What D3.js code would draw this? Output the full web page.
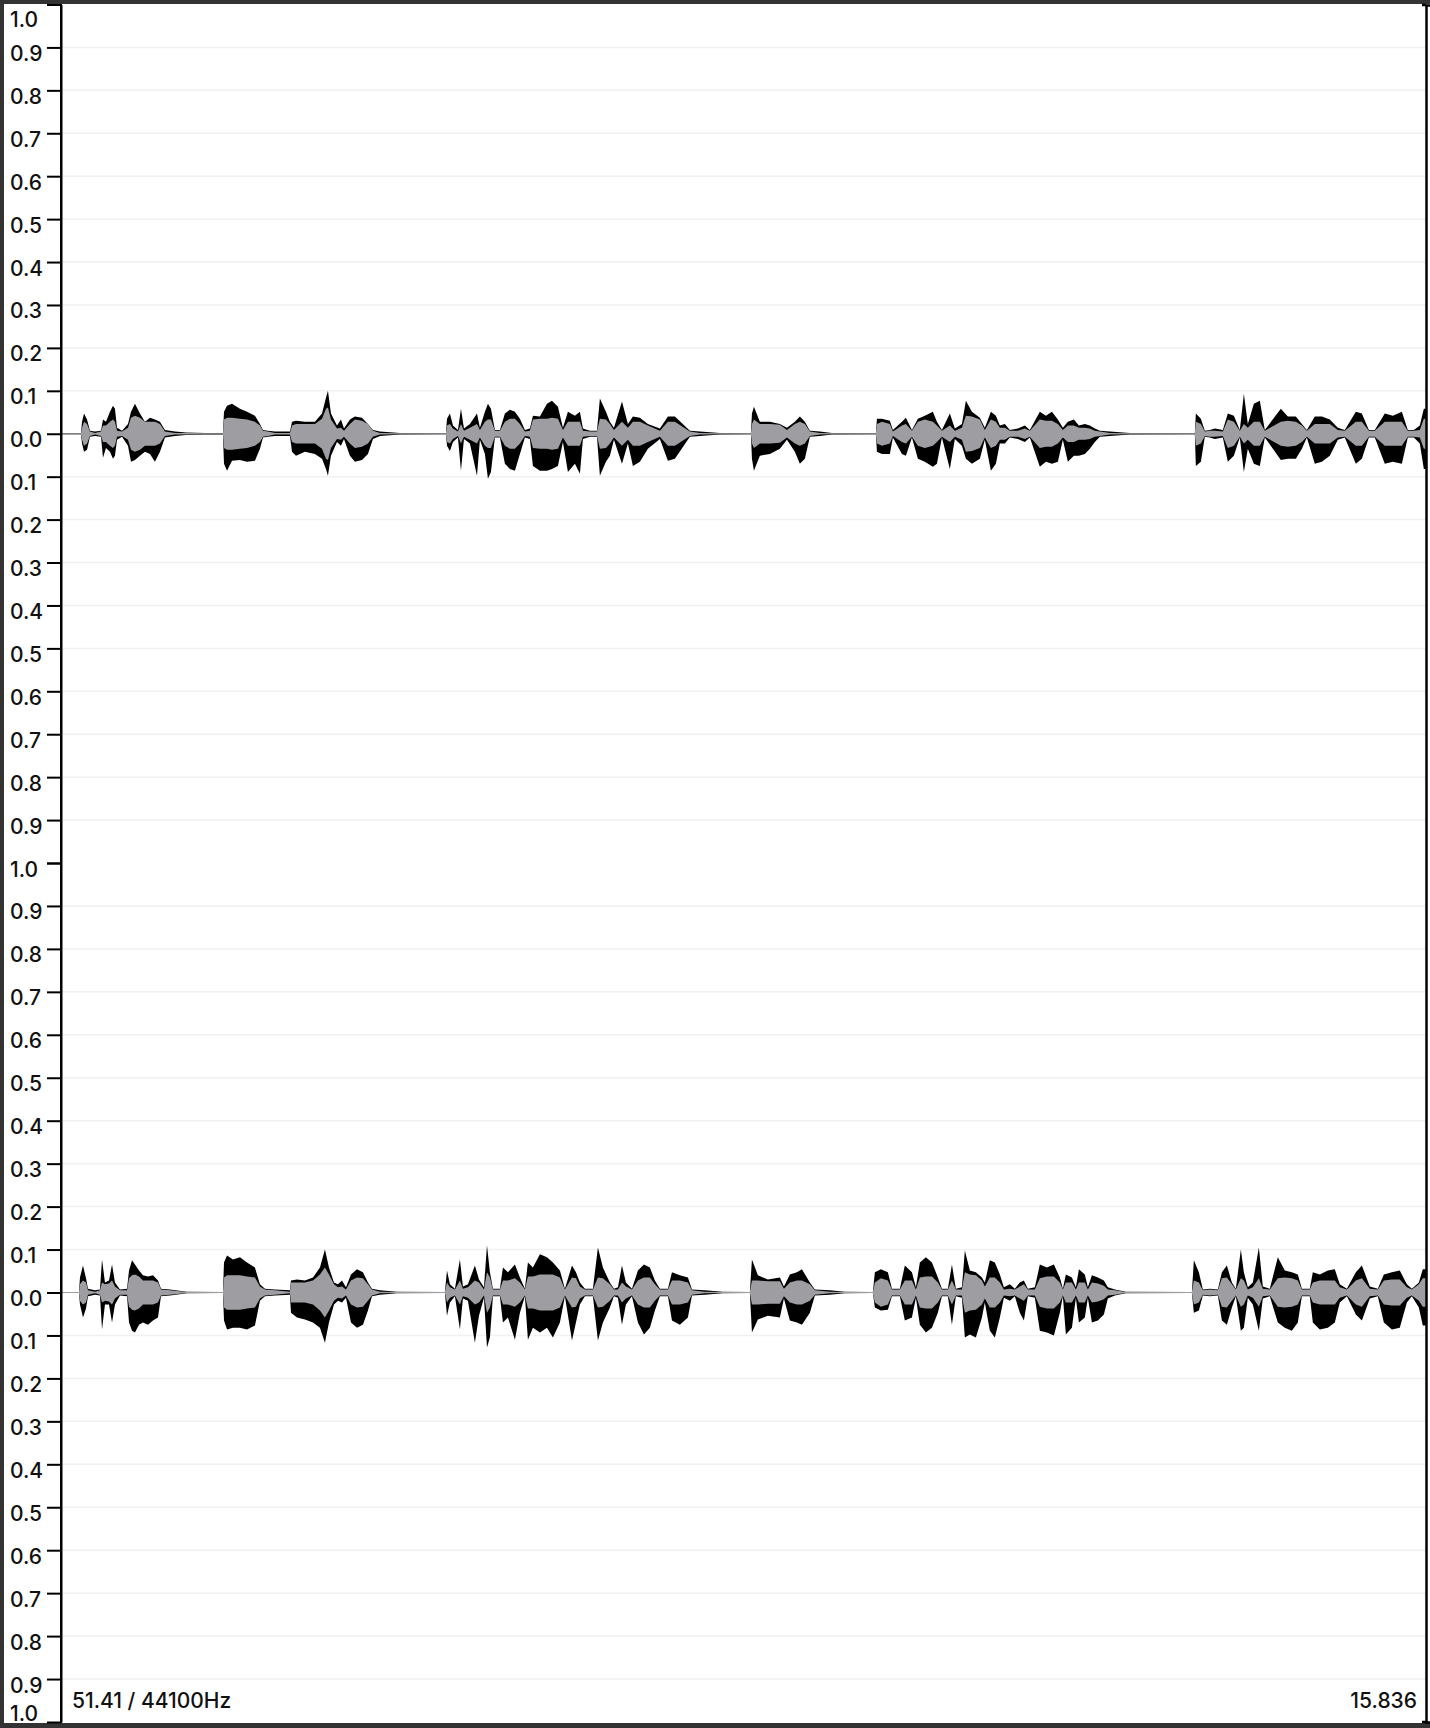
<!DOCTYPE html>
<html>
<head>
<meta charset="utf-8">
<script src="https://cdn.jsdelivr.net/npm/d3@7"></script>
<style>
  html, body { margin: 0; padding: 0; background: #333; }
  svg { display: block; }
  text { font-family: Inter, "Noto Sans", sans-serif; }
</style>
</head>
<body>
<svg id="chart" width="1430" height="1728"></svg>
<script>
// ---------- DATA ----------
const duration = 15.836;           // seconds shown
const sampleRateLabel = "51.41 / 44100Hz";
const endTimeLabel = "15.836";
const amplitudeTicks = [1.0, 0.9, 0.8, 0.7, 0.6, 0.5, 0.4, 0.3, 0.2, 0.1, 0.0,
  -0.1, -0.2, -0.3, -0.4, -0.5, -0.6, -0.7, -0.8, -0.9, -1.0];

// rows: [time (s), peak max, peak min, rms]
const leftChannel = [
[0,0.001,-0.001,0.001],[0.232,0.001,-0.001,0.001],[0.244,0.028,-0.023,0.014],[0.267,0.047,-0.042,0.028],
[0.302,0.033,-0.037,0.023],[0.336,0.007,-0.007,0.005],[0.394,0.005,-0.005,0.002],[0.464,0.007,-0.007,0.005],
[0.487,0.033,-0.056,0.019],[0.522,0.028,-0.033,0.019],[0.568,0.051,-0.042,0.028],[0.603,0.065,-0.058,0.033],
[0.626,0.058,-0.051,0.028],[0.650,0.014,-0.014,0.007],[0.708,0.007,-0.007,0.005],[0.777,0.023,-0.028,0.014],
[0.812,0.051,-0.065,0.037],[0.858,0.070,-0.061,0.042],[0.916,0.047,-0.051,0.037],[0.974,0.028,-0.042,0.028],
[1.032,0.037,-0.047,0.028],[1.090,0.033,-0.065,0.028],[1.148,0.028,-0.042,0.023],[1.206,0.009,-0.009,0.005],
[1.322,0.005,-0.005,0.002],[1.450,0.003,-0.003,0.002],[1.670,0.002,-0.002,0.001],[1.879,0.002,-0.002,0.001],
[1.891,0.051,-0.070,0.033],[1.926,0.065,-0.086,0.037],[1.984,0.070,-0.063,0.037],[2.076,0.058,-0.061,0.035],
[2.158,0.051,-0.065,0.033],[2.250,0.042,-0.063,0.028],[2.308,0.023,-0.035,0.019],[2.343,0.009,-0.009,0.007],
[2.401,0.007,-0.007,0.005],[2.482,0.005,-0.005,0.002],[2.656,0.005,-0.005,0.002],[2.680,0.028,-0.042,0.019],
[2.726,0.030,-0.051,0.023],[2.830,0.028,-0.042,0.023],[2.946,0.028,-0.047,0.023],[3.028,0.047,-0.058,0.035],
[3.074,0.084,-0.082,0.058],[3.097,0.100,-0.098,0.061],[3.132,0.047,-0.051,0.033],[3.202,0.019,-0.019,0.012],
[3.248,0.033,-0.028,0.014],[3.283,0.012,-0.012,0.007],[3.352,0.033,-0.051,0.023],[3.410,0.040,-0.065,0.033],
[3.492,0.037,-0.061,0.030],[3.561,0.023,-0.047,0.023],[3.619,0.009,-0.012,0.007],[3.700,0.005,-0.005,0.002],
[3.932,0.002,-0.002,0.001],[4.396,0.001,-0.001,0.001],[4.466,0.001,-0.001,0.001],[4.478,0.035,-0.028,0.019],
[4.512,0.047,-0.040,0.023],[4.547,0.019,-0.019,0.012],[4.605,0.009,-0.009,0.005],[4.640,0.058,-0.086,0.023],
[4.675,0.012,-0.012,0.007],[4.744,0.023,-0.023,0.014],[4.826,0.047,-0.098,0.023],[4.860,0.014,-0.014,0.009],
[4.918,0.051,-0.047,0.028],[4.953,0.070,-0.105,0.033],[4.988,0.058,-0.089,0.033],[5.034,0.009,-0.009,0.007],
[5.092,0.009,-0.009,0.007],[5.150,0.047,-0.070,0.028],[5.208,0.056,-0.082,0.035],[5.266,0.051,-0.086,0.035],
[5.324,0.035,-0.047,0.023],[5.382,0.009,-0.009,0.005],[5.440,0.012,-0.012,0.007],[5.475,0.042,-0.075,0.033],
[5.556,0.040,-0.086,0.035],[5.638,0.070,-0.086,0.035],[5.696,0.077,-0.082,0.037],[5.765,0.063,-0.075,0.035],
[5.823,0.014,-0.019,0.009],[5.881,0.051,-0.089,0.028],[5.962,0.042,-0.070,0.028],[6.020,0.051,-0.093,0.028],
[6.055,0.012,-0.012,0.007],[6.136,0.007,-0.007,0.005],[6.218,0.007,-0.007,0.005],[6.252,0.082,-0.098,0.035],
[6.322,0.051,-0.065,0.033],[6.368,0.028,-0.051,0.023],[6.415,0.014,-0.014,0.009],[6.508,0.075,-0.070,0.028],
[6.577,0.023,-0.023,0.014],[6.635,0.040,-0.075,0.028],[6.716,0.037,-0.065,0.028],[6.809,0.023,-0.035,0.019],
[6.948,0.012,-0.012,0.007],[7.041,0.040,-0.063,0.028],[7.122,0.040,-0.058,0.028],[7.296,0.007,-0.007,0.005],
[7.412,0.005,-0.005,0.002],[7.644,0.002,-0.002,0.001],[8.004,0.001,-0.001,0.001],[8.016,0.047,-0.058,0.023],
[8.039,0.063,-0.086,0.033],[8.108,0.028,-0.051,0.023],[8.224,0.028,-0.047,0.023],[8.340,0.023,-0.035,0.021],
[8.422,0.014,-0.014,0.009],[8.514,0.028,-0.042,0.023],[8.572,0.040,-0.070,0.028],[8.630,0.028,-0.058,0.023],
[8.688,0.007,-0.007,0.005],[8.804,0.005,-0.005,0.002],[8.944,0.002,-0.002,0.001],[9.454,0.001,-0.001,0.001],
[9.466,0.035,-0.042,0.023],[9.524,0.035,-0.047,0.028],[9.616,0.030,-0.047,0.023],[9.651,0.009,-0.009,0.005],
[9.756,0.028,-0.047,0.019],[9.802,0.037,-0.051,0.023],[9.872,0.009,-0.009,0.007],[9.941,0.035,-0.058,0.028],
[10.022,0.042,-0.065,0.033],[10.115,0.051,-0.077,0.028],[10.162,0.028,-0.070,0.019],[10.220,0.009,-0.009,0.007],
[10.312,0.047,-0.082,0.019],[10.370,0.012,-0.012,0.007],[10.452,0.023,-0.028,0.014],[10.498,0.077,-0.058,0.042],
[10.568,0.051,-0.070,0.040],[10.660,0.037,-0.058,0.033],[10.718,0.014,-0.014,0.009],[10.788,0.051,-0.086,0.033],
[10.846,0.042,-0.070,0.028],[10.892,0.019,-0.023,0.014],[10.950,0.023,-0.023,0.014],[11.008,0.009,-0.009,0.007],
[11.101,0.012,-0.012,0.007],[11.182,0.019,-0.019,0.012],[11.240,0.009,-0.009,0.007],[11.356,0.051,-0.077,0.033],
[11.426,0.042,-0.065,0.030],[11.496,0.051,-0.070,0.030],[11.565,0.033,-0.065,0.023],[11.623,0.014,-0.014,0.009],
[11.681,0.028,-0.065,0.019],[11.751,0.033,-0.051,0.019],[11.809,0.019,-0.051,0.014],[11.878,0.023,-0.047,0.014],
[11.936,0.019,-0.035,0.012],[11.994,0.012,-0.019,0.007],[12.052,0.007,-0.007,0.005],[12.168,0.005,-0.005,0.002],
[12.400,0.002,-0.002,0.001],[13.154,0.001,-0.001,0.001],[13.166,0.047,-0.075,0.028],[13.224,0.035,-0.065,0.023],
[13.270,0.007,-0.007,0.005],[13.328,0.009,-0.009,0.007],[13.386,0.012,-0.012,0.007],[13.479,0.009,-0.009,0.005],
[13.537,0.047,-0.065,0.033],[13.607,0.042,-0.051,0.028],[13.676,0.009,-0.009,0.007],[13.723,0.093,-0.089,0.023],
[13.769,0.023,-0.035,0.014],[13.839,0.070,-0.070,0.028],[13.908,0.077,-0.075,0.028],[13.966,0.009,-0.009,0.007],
[14.152,0.058,-0.061,0.028],[14.233,0.040,-0.058,0.030],[14.326,0.040,-0.058,0.028],[14.396,0.023,-0.035,0.019],
[14.454,0.009,-0.009,0.007],[14.546,0.040,-0.070,0.023],[14.628,0.040,-0.065,0.023],[14.720,0.033,-0.051,0.023],
[14.813,0.014,-0.014,0.009],[14.894,0.009,-0.009,0.007],[15.022,0.051,-0.070,0.028],[15.092,0.047,-0.058,0.028],
[15.173,0.009,-0.009,0.007],[15.242,0.009,-0.009,0.007],[15.358,0.047,-0.070,0.028],[15.451,0.042,-0.065,0.028],
[15.556,0.051,-0.070,0.028],[15.625,0.009,-0.009,0.007],[15.695,0.009,-0.009,0.007],[15.764,0.019,-0.023,0.009],
[15.811,0.058,-0.082,0.035],[15.836,0.058,-0.082,0.035]
];

const rightChannel = [
[0,0.001,-0.001,0.001],[0.209,0.001,-0.001,0.001],[0.220,0.035,-0.028,0.019],[0.255,0.063,-0.058,0.028],
[0.290,0.033,-0.037,0.023],[0.313,0.009,-0.009,0.005],[0.394,0.005,-0.005,0.002],[0.452,0.007,-0.007,0.005],
[0.476,0.077,-0.086,0.023],[0.510,0.023,-0.028,0.019],[0.557,0.028,-0.028,0.021],[0.592,0.065,-0.070,0.028],
[0.626,0.023,-0.028,0.014],[0.684,0.007,-0.007,0.005],[0.766,0.009,-0.009,0.005],[0.789,0.051,-0.070,0.033],
[0.824,0.075,-0.089,0.040],[0.858,0.065,-0.093,0.042],[0.905,0.051,-0.075,0.037],[0.951,0.040,-0.070,0.028],
[1.009,0.037,-0.075,0.028],[1.067,0.040,-0.065,0.028],[1.125,0.028,-0.058,0.023],[1.160,0.009,-0.009,0.007],
[1.264,0.007,-0.007,0.005],[1.462,0.002,-0.002,0.001],[1.879,0.001,-0.001,0.001],[1.891,0.070,-0.065,0.035],
[1.926,0.086,-0.086,0.040],[1.995,0.077,-0.082,0.040],[2.076,0.082,-0.082,0.040],[2.158,0.070,-0.086,0.037],
[2.250,0.058,-0.077,0.035],[2.308,0.019,-0.019,0.014],[2.366,0.009,-0.009,0.007],[2.482,0.007,-0.007,0.005],
[2.656,0.005,-0.005,0.002],[2.668,0.028,-0.047,0.023],[2.738,0.030,-0.058,0.023],[2.830,0.028,-0.063,0.023],
[2.923,0.035,-0.070,0.028],[3.004,0.058,-0.082,0.042],[3.062,0.100,-0.117,0.058],[3.109,0.058,-0.070,0.042],
[3.167,0.023,-0.028,0.019],[3.213,0.019,-0.019,0.012],[3.260,0.028,-0.023,0.014],[3.306,0.012,-0.012,0.007],
[3.364,0.042,-0.070,0.028],[3.434,0.054,-0.082,0.035],[3.503,0.047,-0.075,0.033],[3.561,0.023,-0.042,0.019],
[3.608,0.009,-0.009,0.007],[3.700,0.005,-0.005,0.002],[3.898,0.002,-0.002,0.001],[4.454,0.001,-0.001,0.001],
[4.478,0.051,-0.054,0.023],[4.512,0.019,-0.023,0.012],[4.570,0.009,-0.009,0.007],[4.628,0.077,-0.086,0.028],
[4.663,0.014,-0.014,0.009],[4.721,0.019,-0.019,0.012],[4.802,0.063,-0.117,0.028],[4.849,0.030,-0.054,0.023],
[4.907,0.012,-0.012,0.007],[4.942,0.110,-0.128,0.047],[4.976,0.047,-0.105,0.035],[5.011,0.009,-0.009,0.007],
[5.092,0.009,-0.009,0.007],[5.127,0.058,-0.070,0.028],[5.185,0.047,-0.058,0.028],[5.266,0.065,-0.110,0.033],
[5.324,0.035,-0.047,0.023],[5.382,0.009,-0.009,0.007],[5.417,0.070,-0.110,0.037],[5.475,0.058,-0.082,0.037],
[5.556,0.089,-0.093,0.042],[5.638,0.082,-0.082,0.042],[5.707,0.070,-0.105,0.042],[5.788,0.051,-0.070,0.035],
[5.846,0.009,-0.009,0.007],[5.928,0.063,-0.112,0.035],[5.974,0.047,-0.070,0.033],[6.020,0.023,-0.028,0.014],
[6.078,0.009,-0.009,0.007],[6.171,0.009,-0.009,0.007],[6.229,0.105,-0.112,0.035],[6.287,0.058,-0.070,0.033],
[6.368,0.023,-0.035,0.019],[6.415,0.009,-0.009,0.007],[6.461,0.012,-0.012,0.007],[6.508,0.063,-0.075,0.023],
[6.554,0.023,-0.028,0.014],[6.624,0.009,-0.009,0.007],[6.693,0.051,-0.070,0.028],[6.763,0.065,-0.098,0.035],
[6.832,0.058,-0.082,0.035],[6.890,0.028,-0.042,0.019],[6.948,0.009,-0.009,0.007],[7.041,0.009,-0.009,0.007],
[7.088,0.047,-0.065,0.028],[7.180,0.040,-0.075,0.028],[7.273,0.035,-0.058,0.023],[7.320,0.007,-0.007,0.005],
[7.470,0.005,-0.005,0.002],[7.679,0.002,-0.002,0.001],[7.992,0.001,-0.001,0.001],[8.016,0.077,-0.093,0.028],
[8.085,0.040,-0.063,0.028],[8.201,0.030,-0.054,0.026],[8.340,0.035,-0.058,0.026],[8.387,0.014,-0.014,0.009],
[8.456,0.042,-0.065,0.023],[8.538,0.047,-0.070,0.028],[8.596,0.054,-0.075,0.028],[8.688,0.023,-0.047,0.019],
[8.746,0.007,-0.007,0.005],[8.920,0.005,-0.005,0.002],[9.094,0.002,-0.002,0.001],[9.419,0.001,-0.001,0.001],
[9.442,0.047,-0.035,0.023],[9.512,0.054,-0.042,0.033],[9.593,0.047,-0.040,0.028],[9.640,0.009,-0.009,0.007],
[9.732,0.009,-0.009,0.007],[9.790,0.063,-0.065,0.028],[9.872,0.047,-0.058,0.028],[9.918,0.012,-0.012,0.007],
[9.964,0.070,-0.075,0.035],[10.034,0.082,-0.093,0.037],[10.104,0.070,-0.082,0.037],[10.173,0.035,-0.047,0.023],
[10.220,0.009,-0.009,0.007],[10.289,0.009,-0.009,0.007],[10.336,0.065,-0.075,0.028],[10.382,0.009,-0.009,0.007],
[10.452,0.012,-0.012,0.007],[10.486,0.098,-0.105,0.047],[10.544,0.051,-0.098,0.042],[10.614,0.047,-0.105,0.040],
[10.684,0.035,-0.058,0.028],[10.718,0.023,-0.023,0.014],[10.776,0.075,-0.089,0.035],[10.834,0.070,-0.105,0.035],
[10.892,0.042,-0.058,0.023],[10.939,0.012,-0.012,0.007],[11.008,0.019,-0.019,0.009],[11.066,0.009,-0.009,0.007],
[11.124,0.023,-0.047,0.014],[11.171,0.028,-0.065,0.019],[11.217,0.009,-0.009,0.007],[11.298,0.012,-0.012,0.007],
[11.356,0.065,-0.089,0.033],[11.438,0.058,-0.093,0.037],[11.519,0.065,-0.100,0.037],[11.588,0.035,-0.047,0.023],
[11.623,0.009,-0.009,0.007],[11.658,0.042,-0.098,0.023],[11.728,0.035,-0.082,0.023],[11.774,0.012,-0.012,0.007],
[11.809,0.054,-0.070,0.023],[11.878,0.042,-0.058,0.023],[11.913,0.012,-0.012,0.007],[11.960,0.040,-0.070,0.023],
[12.029,0.035,-0.065,0.021],[12.099,0.028,-0.051,0.016],[12.145,0.012,-0.014,0.007],[12.226,0.007,-0.007,0.005],
[12.354,0.002,-0.002,0.001],[13.120,0.001,-0.001,0.001],[13.143,0.075,-0.047,0.028],[13.201,0.047,-0.042,0.023],
[13.247,0.007,-0.007,0.005],[13.328,0.009,-0.009,0.007],[13.421,0.007,-0.007,0.005],[13.468,0.047,-0.065,0.033],
[13.526,0.063,-0.075,0.035],[13.584,0.023,-0.035,0.019],[13.630,0.009,-0.009,0.007],[13.688,0.100,-0.089,0.033],
[13.723,0.047,-0.082,0.028],[13.769,0.012,-0.012,0.007],[13.827,0.023,-0.028,0.012],[13.897,0.105,-0.089,0.033],
[13.943,0.014,-0.014,0.009],[14.024,0.009,-0.009,0.007],[14.117,0.082,-0.070,0.033],[14.198,0.051,-0.082,0.035],
[14.280,0.047,-0.089,0.033],[14.349,0.042,-0.070,0.028],[14.396,0.009,-0.009,0.007],[14.488,0.009,-0.009,0.007],
[14.523,0.047,-0.070,0.023],[14.604,0.042,-0.086,0.028],[14.697,0.051,-0.082,0.028],[14.778,0.054,-0.070,0.028],
[14.836,0.019,-0.023,0.012],[14.918,0.009,-0.009,0.007],[15.022,0.047,-0.051,0.028],[15.092,0.063,-0.065,0.033],
[15.184,0.014,-0.014,0.009],[15.277,0.009,-0.009,0.007],[15.347,0.042,-0.070,0.028],[15.440,0.047,-0.086,0.030],
[15.532,0.051,-0.082,0.030],[15.614,0.019,-0.023,0.012],[15.672,0.009,-0.009,0.007],[15.753,0.023,-0.035,0.019],
[15.799,0.054,-0.077,0.033],[15.836,0.054,-0.077,0.033]
];

// ---------- LAYOUT ----------
const W = 1430, H = 1728;
const plotLeft = 61, plotRight = 1426;
const frameTop = 4, frameBottom = 1723;
const channelBounds = [[4.5, 863], [863, 1722]]; // [top, bottom] pixel of each channel

const svg = d3.select("#chart");

// dark frame + white canvas
svg.append("rect").attr("x", 0).attr("y", 0).attr("width", W).attr("height", H).attr("fill", "#333");
svg.append("rect").attr("x", 4).attr("y", frameTop).attr("width", W - 4).attr("height", frameBottom - frameTop).attr("fill", "#fff");

const x = d3.scaleLinear().domain([0, duration]).range([plotLeft, plotRight]);

svg.append("defs").append("clipPath").attr("id", "plotClip")
  .append("rect").attr("x", plotLeft).attr("y", frameTop).attr("width", plotRight - plotLeft).attr("height", frameBottom - frameTop);

const channels = [leftChannel, rightChannel];

channels.forEach((data, ci) => {
  const [top, bottom] = channelBounds[ci];
  const y = d3.scaleLinear().domain([-1, 1]).range([bottom, top]);

  // grid lines
  svg.append("g").selectAll("line")
    .data(amplitudeTicks.filter(v => Math.abs(v) > 1e-9 && Math.abs(v) < 0.999))
    .join("line")
    .attr("x1", plotLeft).attr("x2", plotRight)
    .attr("y1", d => y(d)).attr("y2", d => y(d))
    .attr("stroke", "#f1f1f1").attr("stroke-width", 1.5);

  const g = svg.append("g").attr("clip-path", "url(#plotClip)");

  // zero line
  g.append("line")
    .attr("x1", plotLeft).attr("x2", plotRight)
    .attr("y1", y(0)).attr("y2", y(0))
    .attr("stroke", "#707070").attr("stroke-width", 1.2);

  const peakArea = d3.area()
    .x(d => x(d[0]))
    .y0(d => y(d[2]))
    .y1(d => y(d[1]));
  const rmsArea = d3.area()
    .x(d => x(d[0]))
    .y0(d => y(-d[3]))
    .y1(d => y(d[3]));

  g.append("path").datum(data).attr("d", peakArea).attr("fill", "#000");
  g.append("path").datum(data).attr("d", rmsArea).attr("fill", "#9e9da2");

  // left axis
  const axis = d3.axisLeft(y)
    .tickValues(amplitudeTicks)
    .tickSize(14)
    .tickSizeOuter(0)
    .tickFormat(d => Math.abs(d).toFixed(1));
  const ag = svg.append("g").attr("transform", `translate(${plotLeft},0)`).call(axis);
  ag.select(".domain").attr("stroke", "#000").attr("stroke-width", 2);
  ag.selectAll(".tick line").attr("stroke", "#000").attr("stroke-width", 2);
  ag.selectAll(".tick text")
    .attr("fill", "#111")
    .attr("font-size", 21)
    .attr("font-weight", 500)
    .attr("text-anchor", "start")
    .attr("x", 10 - plotLeft)
    .attr("dy", null)
    .attr("y", d => {
      if (ci === 0 && d === 1) return 21.5;      // top edge label pushed down
      if (ci === 1 && d === -1) return -2;       // bottom edge label pushed up
      return 13;
    });
  // the shared 1.0 at the channel boundary is drawn once
  if (ci === 0) ag.selectAll(".tick").filter(d => d === -1).select("text").remove();
});

// full-height axis lines (left and right)
svg.append("line").attr("x1", plotLeft).attr("x2", plotLeft).attr("y1", frameTop).attr("y2", frameBottom)
  .attr("stroke", "#000").attr("stroke-width", 2);
const rightAxis = d3.axisRight(d3.scaleLinear().domain([0, 1]).range([frameBottom - 1, frameTop + 1]))
  .tickValues([]).tickSizeOuter(4);
const rg = svg.append("g").attr("transform", `translate(${plotRight},0)`).call(rightAxis);
rg.select(".domain").attr("stroke", "#000").attr("stroke-width", 2.5);
svg.append("line").attr("x1", plotRight - 4).attr("x2", plotRight).attr("y1", frameTop + 1).attr("y2", frameTop + 1).attr("stroke", "#000").attr("stroke-width", 2.5);
svg.append("line").attr("x1", plotRight - 4).attr("x2", plotRight).attr("y1", frameBottom - 1).attr("y2", frameBottom - 1).attr("stroke", "#000").attr("stroke-width", 2.5);

// footer labels
svg.append("text").attr("x", 72).attr("y", 1708).attr("font-size", 21).attr("font-weight", 500)
  .attr("fill", "#111").text(sampleRateLabel);
svg.append("text").attr("x", 1417).attr("y", 1708).attr("font-size", 21).attr("font-weight", 500)
  .attr("text-anchor", "end").attr("fill", "#111").text(endTimeLabel);
</script>
</body>
</html>
